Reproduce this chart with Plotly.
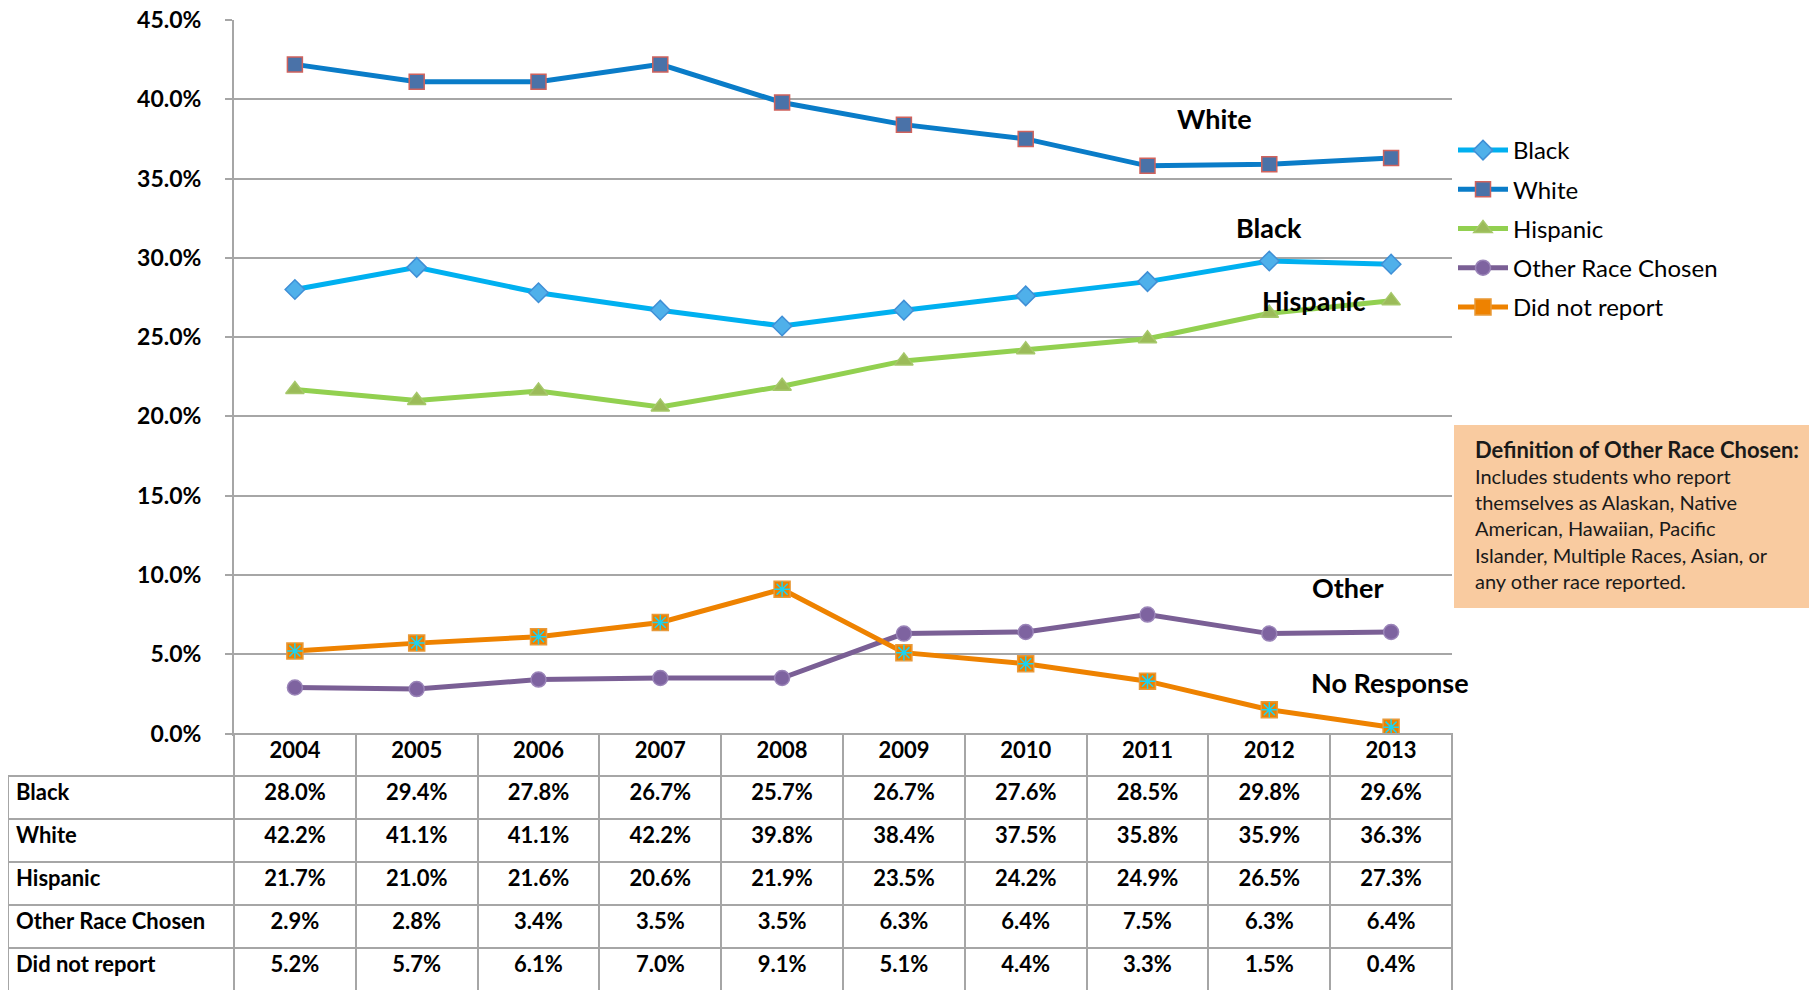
import plotly.graph_objects as go

years = ["2004", "2005", "2006", "2007", "2008", "2009", "2010", "2011", "2012", "2013"]
black = [28.0, 29.4, 27.8, 26.7, 25.7, 26.7, 27.6, 28.5, 29.8, 29.6]
white = [42.2, 41.1, 41.1, 42.2, 39.8, 38.4, 37.5, 35.8, 35.9, 36.3]
hispanic = [21.7, 21.0, 21.6, 20.6, 21.9, 23.5, 24.2, 24.9, 26.5, 27.3]
other = [2.9, 2.8, 3.4, 3.5, 3.5, 6.3, 6.4, 7.5, 6.3, 6.4]
no_report = [5.2, 5.7, 6.1, 7.0, 9.1, 5.1, 4.4, 3.3, 1.5, 0.4]

series_names = ["Black", "White", "Hispanic", "Other Race Chosen", "Did not report"]
series_values = [black, white, hispanic, other, no_report]

# end-of-line labels (text, x position in categories, y in %)
line_labels = [
    ("White", 7.55, 38.8),
    ("Black", 8.0, 31.9),
    ("Hispanic", 8.36, 27.3),
    ("Other", 8.65, 9.2),
    ("No Response", 8.99, 3.2),
]

note_title = "Definition of Other Race Chosen:"
note_lines = [
    "Includes students who report",
    "themselves as Alaskan, Native",
    "American, Hawaiian, Pacific",
    "Islander, Multiple Races, Asian, or",
    "any other race reported.",
]

FONT = "Lato"
GRID = "#A6A6A6"
W, H = 1817, 990

# pixel layout (page body adds an 8px offset)
PX_L, PX_R = 226, 1444
PX_TOP, PX_BOT = 12, 725.5
TABLE_L = 0

styles = {
    "Black": dict(line="#00B0F0", symbol="diamond", fill="#4FB0EA", edge="#3F8FD6", size=15),
    "White": dict(line="#0A7CC8", symbol="square", fill="#4A72A8", edge="#D0625C", size=15),
    "Hispanic": dict(line="#92D050", symbol="triangle-up", fill="#9BBB59", edge="#A6C86A", size=16),
    "Other Race Chosen": dict(line="#7A5F95", symbol="circle", fill="#7E63A0", edge="#9A84B8", size=15),
    "Did not report": dict(line="#EE8200", symbol="square", fill="#EE8200", edge="#E89A3A", size=16),
}

fig = go.Figure()

for name, vals in zip(series_names, series_values):
    s = styles[name]
    fig.add_trace(go.Scatter(
        x=years, y=vals, name=name, mode="lines+markers",
        line=dict(color=s["line"], width=5),
        marker=dict(symbol=s["symbol"], size=s["size"], color=s["fill"],
                    line=dict(color=s["edge"], width=1.5)),
        legendgroup=name,
    ))

# asterisk overlay on the "Did not report" squares
fig.add_trace(go.Scatter(
    x=years, y=no_report, mode="markers", showlegend=False, hoverinfo="skip",
    marker=dict(symbol="asterisk-open", size=13, line=dict(color="#4BACC6", width=1.5)),
))

# data table under the chart
col_widths = [PX_L - TABLE_L] + [(PX_R - PX_L) / len(years)] * len(years)
cell_cols = [series_names] + [
    [f"{v[i]:.1f}%" for v in series_values] for i in range(len(years))
]
fig.add_trace(go.Table(
    domain=dict(x=[TABLE_L / W, PX_R / W], y=[0, (H - PX_BOT) / H]),
    columnwidth=col_widths,
    header=dict(
        values=[""] + years,
        height=42,
        align="center",
        fill=dict(color=["rgba(0,0,0,0)"] + ["white"] * len(years)),
        line=dict(color=["rgba(0,0,0,0)"] + [GRID] * len(years), width=2),
        font=dict(family=FONT, size=22, color="black", weight="bold"),
    ),
    cells=dict(
        values=cell_cols,
        height=43,
        align=["left"] + ["center"] * len(years),
        fill=dict(color="white"),
        line=dict(color=GRID, width=2),
        font=dict(family=FONT, size=22, color="black", weight="bold"),
    ),
))

for text, xi, yv in line_labels:
    fig.add_annotation(
        x=xi, y=yv, xref="x", yref="y", text=f"<b>{text}</b>", showarrow=False,
        font=dict(family=FONT, size=27, color="black"),
    )

# definition note box
fig.add_shape(type="rect", xref="paper", yref="paper",
              x0=1446 / W, x1=1.0, y0=1 - 600 / H, y1=1 - 417 / H,
              fillcolor="#F9CBA0", line=dict(width=0), layer="below")
fig.add_annotation(
    xref="paper", yref="paper", x=1465 / W, y=1 - 441 / H,
    xanchor="left", yanchor="middle", showarrow=False,
    text=f"<b>{note_title}</b>",
    font=dict(family=FONT, size=22, color="#1a1a1a"),
)
for i, line in enumerate(note_lines):
    fig.add_annotation(
        xref="paper", yref="paper", x=1465 / W, y=1 - (468 + 26.2 * i) / H,
        xanchor="left", yanchor="middle", showarrow=False,
        text=line, font=dict(family=FONT, size=20, color="#1a1a1a"),
    )

fig.update_layout(
    width=W, height=H,
    margin=dict(l=0, r=0, t=0, b=0),
    paper_bgcolor="white", plot_bgcolor="white",
    font=dict(family=FONT, color="black"),
    xaxis=dict(
        domain=[PX_L / W, PX_R / W], type="category", range=[-0.5, 9.5],
        showticklabels=False, showgrid=False, zeroline=False, automargin=False,
        showline=True, linecolor=GRID, linewidth=2,
    ),
    yaxis=dict(
        domain=[1 - PX_BOT / H, 1 - PX_TOP / H], range=[0, 45], dtick=5,
        tickformat=".1f", ticksuffix="%", automargin=False,
        ticklabeloverflow="allow",
        showgrid=True, gridcolor=GRID, gridwidth=2, zeroline=False,
        showline=True, linecolor=GRID, linewidth=2,
        ticks="outside", ticklen=7, tickcolor=GRID, tickwidth=2,
        ticklabelstandoff=19,
        tickfont=dict(family=FONT, size=23, color="black", weight="bold"),
    ),
    legend=dict(
        x=1445 / W, y=1 - 120 / H, xanchor="left", yanchor="top",
        font=dict(family=FONT, size=24, color="black"),
        tracegroupgap=5, itemwidth=50, bgcolor="rgba(0,0,0,0)",
    ),
    showlegend=True,
)

fig.write_html("out.html")
